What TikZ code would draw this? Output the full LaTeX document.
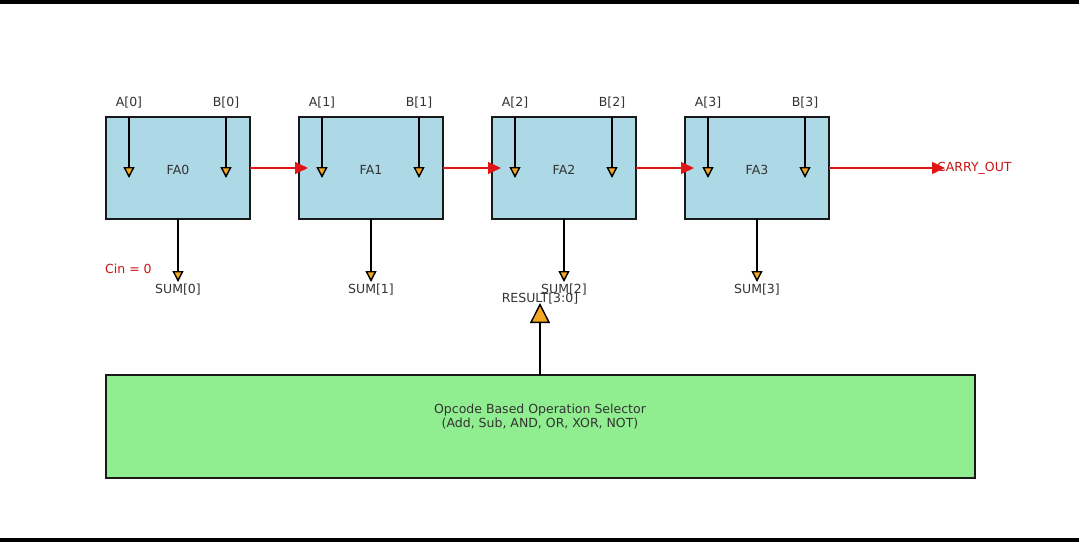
\documentclass[tikz,border=0pt]{standalone}
\usepackage{fontspec}
\setmainfont{DejaVu Sans}
\usetikzlibrary{arrows.meta,positioning}
\definecolor{fablue}{HTML}{ADD8E6}
\definecolor{selgreen}{HTML}{90EE90}
\definecolor{tiporange}{HTML}{F2A623}
\definecolor{carryred}{HTML}{E01515}
\definecolor{txtgray}{HTML}{333333}
\tikzset{
  fabox/.style={draw=black!90, line width=1.4pt, fill=fablue, minimum width=144pt,
    minimum height=102pt, inner sep=0pt, outer sep=0pt, anchor=north west},
  selbox/.style={draw=black!90, line width=1.4pt, fill=selgreen, minimum width=869pt,
    minimum height=103pt, inner sep=0pt, outer sep=0pt, anchor=north west},
  lbl/.style={font=\fontsize{12.5}{14}\selectfont, text=txtgray, inner sep=0pt, yshift=-2pt},
  redlbl/.style={font=\fontsize{12.5}{14}\selectfont, text=carryred!90!black, inner sep=0pt, yshift=-1.5pt},
  inarrow/.style={line width=1.4pt, -{Triangle[width=11pt,length=11pt,fill=tiporange]}},
  carry/.style={carryred, line width=1.5pt, -{Triangle[width=12pt,length=13pt,fill=carryred]}},
  resarrow/.style={line width=1.4pt, -{Triangle[width=20pt,length=20pt,fill=tiporange]}}
}
\begin{document}
\begin{tikzpicture}[x=1pt,y=-1pt]
  \useasboundingbox (0,0) rectangle (1079,542);
  \fill[black] (0,0) rectangle (1079,4);
  \fill[black] (0,538) rectangle (1079,542);
  % full adder chain
  \foreach \i in {0,...,3}{
    \pgfmathsetmacro\xl{106+193*\i}
    \node[fabox] (fa\i) at (\xl,117) {};
    \node[lbl] (falab\i) at (fa\i.center) {FA\i};
    \node[lbl] (alab\i) at (\xl+23,101) {A[\i]};
    \node[lbl] (blab\i) at (\xl+120,101) {B[\i]};
    \node[lbl] (sumlab\i) at (\xl+72,288) {SUM[\i]};
    \coordinate (atop\i) at (\xl+23,117);
    \coordinate (aend\i) at (\xl+23,178);
    \coordinate (btop\i) at (\xl+120,117);
    \coordinate (bend\i) at (\xl+120,178);
    \coordinate (send\i) at (\xl+72,282);
    \draw[inarrow] (atop\i) -- (aend\i);
    \draw[inarrow] (btop\i) -- (bend\i);
    \draw[inarrow] (fa\i.south) -- (fa\i.south |- send\i);
  }
  \foreach \i/\j in {0/1,1/2,2/3}
    \draw[carry] (fa\i.east) -- ([xshift=9pt]fa\j.west);
  \node[redlbl, anchor=west] (cin) at (105,267) {Cin = 0};
  \node[redlbl, anchor=west] (cout) at (937,167) {CARRY\_OUT};
  \draw[carry] (fa3.east) -- ([xshift=8pt]fa3.east -| cout.west);
  % operation selector
  \node[selbox] (sel) at (106,375) {};
  \node[lbl, align=center] (seltxt) at (540,415) {Opcode Based Operation Selector\\(Add, Sub, AND, OR, XOR, NOT)};
  \node[lbl] (reslab) at (540,297) {RESULT[3:0]};
  \coordinate (resend) at (540,303);
  \draw[resarrow] (sel.north -| resend) -- (resend);
\end{tikzpicture}
\end{document}
